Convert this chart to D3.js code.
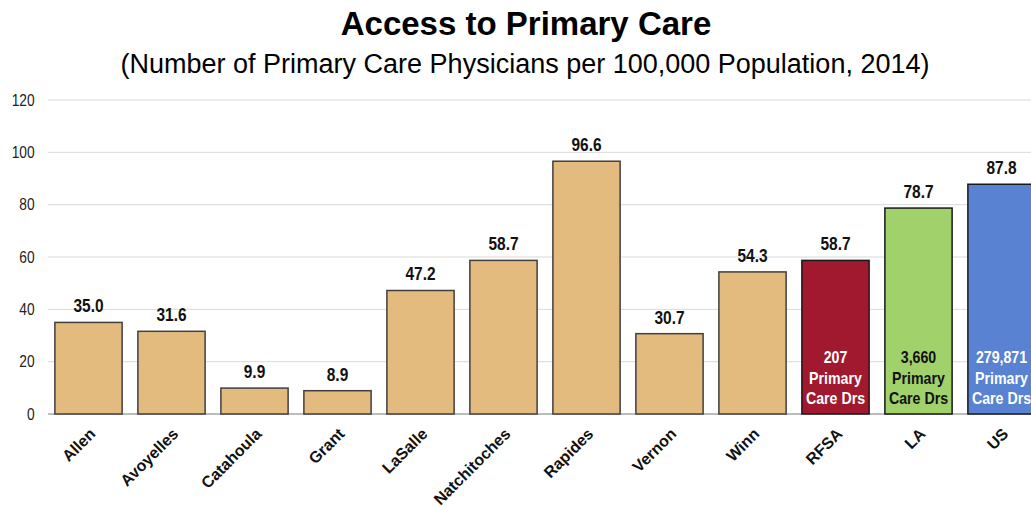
<!DOCTYPE html>
<html lang="en">
<head>
    <meta charset="UTF-8">
    <title>Access to Primary Care</title>
    <script src="https://d3js.org/d3.v7.min.js"></script>
    <style>
        body { margin: 0; background: #fff; }
        text { font-family: "Liberation Sans", Arial, sans-serif; }
    </style>
</head>
<body>
    <script>
        const width = 1031;
        const height = 506;

        const categories = ["Allen", "Avoyelles", "Catahoula", "Grant", "LaSalle", "Natchitoches",
            "Rapides", "Vernon", "Winn", "RFSA", "LA", "US"];
        const values = [35.0, 31.6, 9.9, 8.9, 47.2, 58.7, 96.6, 30.7, 54.3, 58.7, 78.7, 87.8];
        const doctorCounts = { RFSA: "207", LA: "3,660", US: "279,871" };
        const yTicks = [0, 20, 40, 60, 80, 100, 120];

        const barColors = { RFSA: "#A0192E", LA: "#A0D16A", US: "#5A82D2" };
        const innerTextColors = { RFSA: "#fff", LA: "#111", US: "#fff" };
        const narrow = 0.86; // squeeze to mimic the condensed face

        const svg = d3.select("body").append("svg")
            .attr("width", width)
            .attr("height", height);

        const x = d3.scaleBand()
            .domain(categories)
            .range([47, 1043])
            .paddingInner(0.19)
            .paddingOuter(0.095);

        const y = d3.scaleLinear()
            .domain([0, 120])
            .range([414, 100]);

        const cx = d => x(d) + x.bandwidth() / 2;

        // title
        svg.append("text")
            .attr("x", 526).attr("y", 35)
            .attr("text-anchor", "middle")
            .attr("font-size", 33).attr("font-weight", "bold")
            .text("Access to Primary Care");
        svg.append("text")
            .attr("x", 525).attr("y", 73)
            .attr("text-anchor", "middle")
            .attr("font-size", 27)
            .text("(Number of Primary Care Physicians per 100,000 Population, 2014)");

        // gridlines
        svg.append("g")
            .selectAll("line")
            .data(yTicks.filter(d => d > 0))
            .join("line")
            .attr("x1", 48).attr("x2", width)
            .attr("y1", d => y(d)).attr("y2", d => y(d))
            .attr("stroke", "#d9d9d9").attr("stroke-width", 1);

        // y axis labels
        const yAxis = svg.append("g")
            .attr("transform", "translate(38,0)")
            .call(d3.axisLeft(y).tickValues(yTicks).tickSize(0).tickPadding(4));
        yAxis.select(".domain").remove();
        yAxis.selectAll("text")
            .attr("font-size", 16)
            .attr("fill", "#222")
            .style("font-family", "\"Liberation Sans\", Arial, sans-serif")
            .attr("transform", `scale(${narrow},1)`);

        // baseline
        svg.append("line")
            .attr("x1", 48).attr("x2", width)
            .attr("y1", y(0)).attr("y2", y(0))
            .attr("stroke", "#a6a6a6").attr("stroke-width", 1.5);

        // bars
        svg.append("g")
            .selectAll("rect")
            .data(categories)
            .join("rect")
            .attr("x", d => x(d))
            .attr("y", (d, i) => y(values[i]))
            .attr("width", x.bandwidth())
            .attr("height", (d, i) => y(0) - y(values[i]))
            .attr("fill", d => barColors[d] || "#E4BB7E")
            .attr("stroke", d => barColors[d] ? "#1a1a1a" : "#404040")
            .attr("stroke-width", 1.5);

        // value labels
        svg.append("g")
            .selectAll("text")
            .data(categories)
            .join("text")
            .attr("transform", (d, i) => `translate(${cx(d)},${y(values[i]) - 10}) scale(${narrow},1)`)
            .attr("text-anchor", "middle")
            .attr("font-size", 18).attr("font-weight", "bold")
            .attr("fill", "#111")
            .text((d, i) => values[i].toFixed(1));

        // inner labels for comparison bars
        const inner = svg.append("g")
            .selectAll("text")
            .data(Object.keys(doctorCounts))
            .join("text")
            .attr("transform", d => `translate(${cx(d)},0) scale(${narrow},1)`)
            .attr("text-anchor", "middle")
            .attr("font-size", 16.5).attr("font-weight", "bold")
            .attr("fill", d => innerTextColors[d]);
        [["count", 363], ["Primary", 384], ["Care Drs", 404]].forEach(([line, yy]) => {
            inner.append("tspan")
                .attr("x", 0)
                .attr("y", yy)
                .text(d => line === "count" ? doctorCounts[d] : line);
        });

        // category labels
        svg.append("g")
            .selectAll("text")
            .data(categories)
            .join("text")
            .attr("transform", d => `translate(${cx(d)},${y(0) + 13}) rotate(-45)`)
            .attr("text-anchor", "end")
            .attr("dy", "0.7em")
            .attr("font-size", 16).attr("font-weight", "bold")
            .attr("fill", "#111")
            .text(d => d);
    </script>
</body>
</html>
